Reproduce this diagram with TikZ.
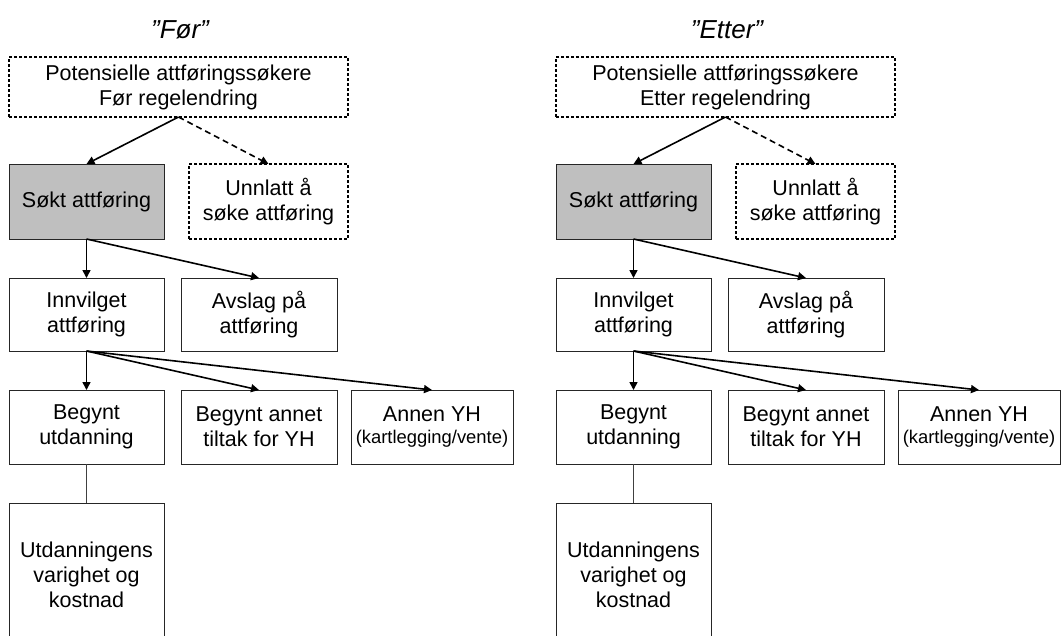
\documentclass[tikz,border=0pt]{standalone}
\usepackage{fontspec}
\setmainfont{Liberation Sans}
\usetikzlibrary{arrows.meta}
\begin{document}
\begin{tikzpicture}[x=1pt,y=-1pt,
  box/.style={draw=black!85,line width=0.9pt,rectangle,inner sep=0pt,outer sep=0pt,align=center,
    font=\fontsize{21.5}{25}\selectfont},
  dbox/.style={box,draw=black,line width=1.2pt,dash pattern=on 3pt off 2pt},
  sbox/.style={box,fill=black!25},
  arr/.style={line width=1.6pt,-{Triangle[length=8pt,width=8pt]}},
  darr/.style={arr,dash pattern=on 6pt off 4pt},
  thin/.style={draw=black!75,line width=0.9pt},
  ttl/.style={font=\fontsize{26}{30}\selectfont\itshape}]
\clip (0,0) rectangle (1061,635);
\fill[white] (0,0) rectangle (1061,635);
\foreach \p/\dx/\tt in {L/0/Før,R/547/Etter}{
  \node[ttl] (\p title) at (180+\dx,30) {”\tt”};
  \node[dbox,minimum width=339pt,minimum height=60pt] (\p top) at (178.5+\dx,87)
    {Potensielle attføringssøkere\\\tt{} regelendring};
  \node[sbox,minimum width=155pt,minimum height=75pt] (\p sokt) at (86.5+\dx,201.5) {Søkt attføring};
  \node[dbox,minimum width=159pt,minimum height=75pt] (\p unn) at (268.5+\dx,201.5) {Unnlatt å\\søke attføring};
  \node[box,minimum width=155pt,minimum height=73pt] (\p innv) at (86.5+\dx,314.5) {Innvilget\\attføring};
  \node[box,minimum width=156pt,minimum height=73pt] (\p avs) at (259+\dx,314.5) {Avslag på\\attføring};
  \node[box,minimum width=155pt,minimum height=74pt] (\p beg) at (86.5+\dx,427) {Begynt\\utdanning};
  \node[box,minimum width=156pt,minimum height=74pt] (\p ann) at (259+\dx,427) {Begynt annet\\tiltak for YH};
  \node[box,minimum width=162pt,minimum height=74pt] (\p yh) at (432+\dx,427)
    {Annen YH\\[-3pt]{\fontsize{18.4}{21}\selectfont(kartlegging/vente)}};
  \node[box,minimum width=155pt,minimum height=144pt] (\p utd) at (86.5+\dx,575)
    {Utdanningens\\varighet og\\kostnad};
  \draw[arr] (\p top.south) -- (\p sokt.north);
  \draw[darr] (\p top.south) -- (\p unn.north);
  \draw[arr] (\p sokt.south) -- (\p innv.north);
  \draw[arr] (\p sokt.south) -- (\p avs.north);
  \draw[arr] (\p innv.south) -- (\p beg.north);
  \draw[arr] (\p innv.south) -- (\p ann.north);
  \draw[arr] (\p innv.south) -- (\p yh.north);
  \draw[thin] (\p beg.south) -- (\p utd.north);
}
\end{tikzpicture}
\end{document}
